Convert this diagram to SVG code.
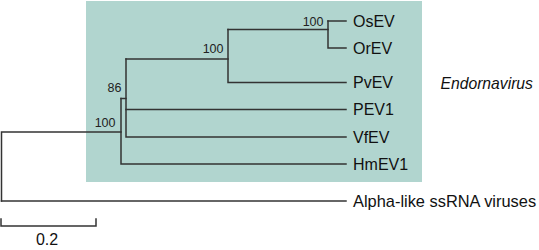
<svg xmlns="http://www.w3.org/2000/svg" width="539" height="250" viewBox="0 0 539 250">
<style>
.br{fill:none;stroke:#333;stroke-width:1.5;stroke-linecap:square}
.leaf{font-family:"Liberation Sans",Arial,sans-serif;font-size:16px;fill:#111}
.bs{font-family:"Liberation Sans",Arial,sans-serif;font-size:12.5px;fill:#222;text-anchor:end}
</style>
<rect id="clade-box" x="86" y="1" width="336" height="181" fill="#b1d5cf"/>
<g id="connectors" class="br">
<path d="M1.5,201 V132 H121"/>
<path d="M1.5,201 H346"/>
<path d="M121,98.5 V164 H346"/>
<path d="M121,98.5 H126"/>
<path d="M126,59 V137 H346"/>
<path d="M126,109.5 H346"/>
<path d="M126,59 H228"/>
<path d="M228,29.5 V82.5 H346"/>
<path d="M228,29.5 H328"/>
<path d="M328,21 V48 H346"/>
<path d="M328,21 H346"/>
</g>
<g id="support">
<text class="bs" x="323.5" y="26">100</text>
<text class="bs" x="223.5" y="53">100</text>
<text class="bs" x="121.5" y="92">86</text>
<text class="bs" x="115.5" y="127">100</text>
</g>
<g id="OsEV"><text class="leaf" x="353" y="26.8">OsEV</text></g>
<g id="OrEV"><text class="leaf" x="353" y="53.8">OrEV</text></g>
<g id="PvEV"><text class="leaf" x="353" y="88.2">PvEV</text></g>
<g id="PEV1"><text class="leaf" x="353" y="115.2">PEV1</text></g>
<g id="VfEV"><text class="leaf" x="353" y="142.7">VfEV</text></g>
<g id="HmEV1"><text class="leaf" x="353" y="170.2">HmEV1</text></g>
<g id="Alpha"><text class="leaf" x="353" y="206.7" style="font-size:16.4px">Alpha-like ssRNA viruses</text></g>
<g id="Endornavirus"><text class="leaf" x="440.5" y="89.3" font-style="italic" style="font-size:15.7px">Endornavirus</text></g>
<g id="scale">
<path class="br" d="M1,219 V226 H96 V219"/>
<text class="leaf" x="47" y="244.5" text-anchor="middle">0.2</text>
</g>
</svg>
